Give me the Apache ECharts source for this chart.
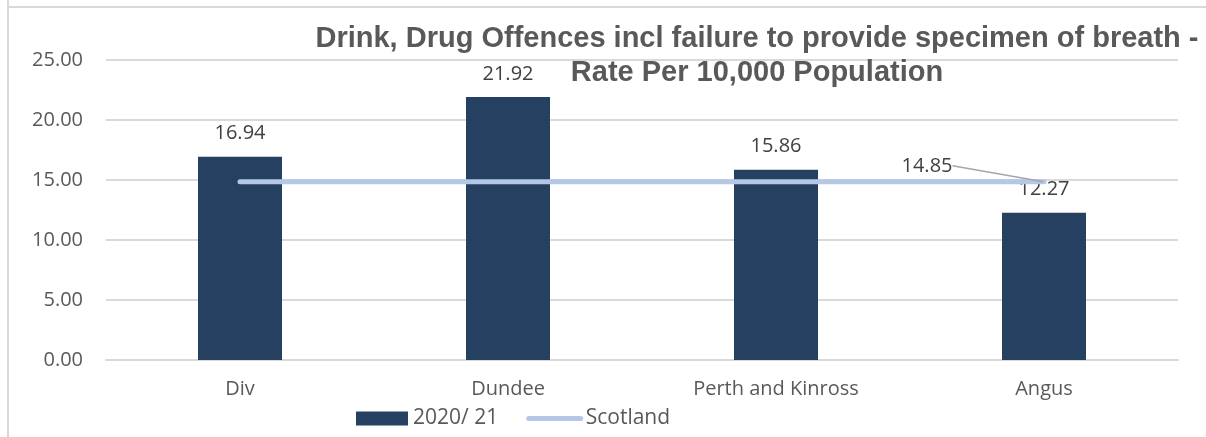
<!DOCTYPE html>
<html>
<head>
<meta charset="utf-8">
<script src="https://cdn.jsdelivr.net/npm/echarts@6/dist/echarts.min.js"></script>
<style>
  html, body { margin: 0; padding: 0; background: #fff; }
  #chart { width: 1206px; height: 437px; }
</style>
</head>
<body>
<div id="chart"></div>
<script>
const categories = ['Div', 'Dundee', 'Perth and Kinross', 'Angus']
const rate2021 = [16.94, 21.92, 15.86, 12.27]
const scotland = [14.85, 14.85, 14.85, 14.85]
const yTicks = [0, 5, 10, 15, 20, 25]

const chart = echarts.init(document.getElementById('chart'))
chart.setOption({
  backgroundColor: '#fff',
  animation: false,
  textStyle: { fontFamily: 'Open Sans, Calibri, sans-serif' },
  title: {
    text: 'Drink, Drug Offences incl failure to provide specimen of breath -\nRate Per 10,000 Population',
    left: 752,
    top: 17,
    textAlign: 'center',
    textStyle: {
      fontFamily: 'Liberation Sans, Arial, sans-serif',
      fontSize: 29,
      fontWeight: 'bold',
      color: '#595959',
      lineHeight: 34,
      align: 'center'
    }
  },
  graphic: [
    { type: 'line', shape: { x1: 8, y1: 0, x2: 8, y2: 437 }, style: { stroke: '#d9d9d9', lineWidth: 2 } },
    { type: 'line', shape: { x1: 8, y1: 7, x2: 1206, y2: 7 }, style: { stroke: '#d9d9d9', lineWidth: 2 } }
  ],
  legend: {
    bottom: 3,
    left: 351,
    itemWidth: 52,
    itemHeight: 14,
    itemGap: 28,
    textStyle: { fontSize: 21, color: '#595959' },
    data: [
      { name: '2020/ 21', icon: 'rect' },
      {
        name: 'Scotland',
        itemStyle: { opacity: 0 },
        lineStyle: { color: '#b4c7e7', width: 5, cap: 'round' }
      }
    ]
  },
  grid: { left: 106, right: 28, top: 60, bottom: 77 },
  xAxis: {
    type: 'category',
    data: categories,
    axisLine: { show: true, lineStyle: { color: '#d9d9d9', width: 2 } },
    axisTick: { show: false },
    axisLabel: { fontSize: 20, color: '#595959', margin: 19 }
  },
  yAxis: {
    type: 'value',
    min: yTicks[0],
    max: yTicks[yTicks.length - 1],
    interval: 5,
    axisLine: { show: false },
    axisTick: { show: false },
    splitLine: { lineStyle: { color: '#d9d9d9', width: 2 } },
    axisLabel: {
      fontSize: 20,
      color: '#595959',
      margin: 23,
      formatter: v => v.toFixed(2)
    }
  },
  series: [
    {
      name: '2020/ 21',
      type: 'bar',
      data: rate2021,
      barWidth: 84,
      itemStyle: { color: '#264061' },
      label: {
        show: true,
        position: 'top',
        distance: 13,
        fontSize: 20,
        color: '#404040',
        formatter: p => p.value.toFixed(2)
      }
    },
    {
      name: 'Scotland',
      type: 'line',
      // only the last point carries the value label, moved off with a leader line
      data: scotland.map((v, i) => i === scotland.length - 1
        ? {
            value: v,
            label: {
              show: true,
              position: 'inside',
              fontSize: 20,
              color: '#404040',
              formatter: p => p.value.toFixed(2)
            }
          }
        : v),
      labelLayout: { dx: -117, dy: -16 },
      labelLine: { show: true, lineStyle: { color: '#a6a6a6', width: 1.5 } },
      symbol: 'circle',
      symbolSize: 1,
      showSymbol: true,
      lineStyle: { color: '#b4c7e7', width: 5, cap: 'round' },
      itemStyle: { color: '#b4c7e7' },
      z: 3
    }
  ]
})
</script>
</body>
</html>
